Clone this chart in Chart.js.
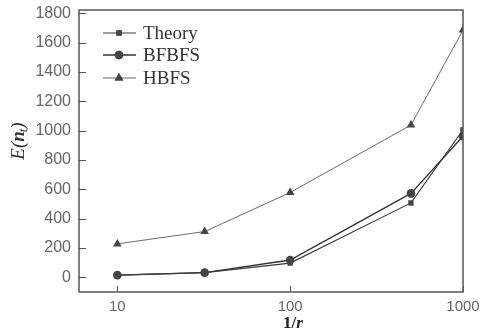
<!DOCTYPE html>
<html><head><meta charset="utf-8">
<script src="https://cdn.jsdelivr.net/npm/chart.js@4"></script>
<style>html,body{margin:0;padding:0;background:#fff}#c{display:block}</style>
</head><body>
<canvas id="c" width="480" height="330"></canvas>
<script>
const xValues = [10, 32, 100, 500, 1000];
const theory = [15, 32, 97, 507, 1005];
const bfbfs = [15, 32, 118, 572, 962];
const hbfs = [228, 312, 578, 1038, 1685];
const seriesNames = ['Theory', 'BFBFS', 'HBFS'];
const xTicks = [10, 100, 1000];
const yTicks = [0, 200, 400, 600, 800, 1000, 1200, 1400, 1600, 1800];

const pts = arr => arr.map((v, i) => ({x: xValues[i], y: v}));

const styles = [
  {color: '#3a3a3a', width: 1.1, point: 'rect', r: 3.8},
  {color: '#333333', width: 1.3, point: 'circle', r: 4.3},
  {color: '#5a5a5a', width: 0.9, point: 'triangle', r: 5}
];
const seriesData = [theory, bfbfs, hbfs];

const framePlugin = {
  id: 'frame',
  afterDraw(chart) {
    const {ctx, chartArea: a, scales} = chart;
    ctx.save();
    ctx.strokeStyle = '#555';
    ctx.lineWidth = 1.5;
    ctx.strokeRect(a.left, a.top, a.right - a.left, a.bottom - a.top);
    ctx.lineWidth = 1;
    ctx.strokeStyle = '#555';
    yTicks.forEach(v => {
      const y = Math.round(scales.y.getPixelForValue(v)) + 0.5;
      ctx.beginPath(); ctx.moveTo(a.left, y); ctx.lineTo(a.left + 7, y); ctx.stroke();
    });
    xTicks.forEach(v => {
      const x = Math.round(scales.x.getPixelForValue(v)) + 0.5;
      ctx.beginPath(); ctx.moveTo(x, a.bottom); ctx.lineTo(x, a.bottom - 6); ctx.stroke();
    });
    // legend
    const rows = [33, 55, 78];
    chart.data.datasets.forEach((ds, i) => {
      const y = rows[i];
      ctx.strokeStyle = ds.borderColor;
      ctx.lineWidth = ds.borderWidth;
      ctx.beginPath(); ctx.moveTo(103, y); ctx.lineTo(136, y); ctx.stroke();
      ctx.fillStyle = ds.pointBackgroundColor;
      ctx.beginPath();
      Chart.helpers.drawPoint(ctx, {pointStyle: ds.pointStyle, radius: ds.pointRadius, borderWidth: 0}, 119, y);
      ctx.fill();
      ctx.fillStyle = '#333';
      ctx.font = '19px "Liberation Serif", serif';
      ctx.textBaseline = 'middle';
      ctx.textAlign = 'left';
      ctx.fillText(ds.label, 143, y + 1);
    });
    // y title E(n_t)
    ctx.save();
    ctx.translate(19, 141);
    ctx.rotate(-Math.PI / 2);
    ctx.fillStyle = '#333';
    ctx.textBaseline = 'middle';
    ctx.textAlign = 'left';
    const big = 'italic 19px "Liberation Serif", serif';
    const small = 'italic 13px "Liberation Serif", serif';
    ctx.font = big;
    const wE = ctx.measureText('E(').width;
    const wn = ctx.measureText('n').width;
    ctx.font = small;
    const wt = ctx.measureText('t').width;
    ctx.font = big;
    const wp = ctx.measureText(')').width;
    let x0 = -(wE + wn + wt + wp) / 2;
    ctx.fillText('E(', x0, 0); x0 += wE;
    ctx.font = 'bold italic 19px "Liberation Serif", serif';
    ctx.fillText('n', x0, 0); x0 += wn;
    ctx.font = small;
    ctx.fillText('t', x0, 5); x0 += wt;
    ctx.font = big;
    ctx.fillText(')', x0, 0);
    ctx.restore();
    // x title 1/r
    ctx.fillStyle = '#222';
    ctx.textBaseline = 'alphabetic';
    ctx.textAlign = 'left';
    ctx.font = 'bold 17px "Liberation Serif", serif';
    const w1 = ctx.measureText('1/').width;
    ctx.font = 'bold italic 17px "Liberation Serif", serif';
    const wr = ctx.measureText('r').width;
    let xs = 293 - (w1 + wr) / 2;
    ctx.font = 'bold 17px "Liberation Serif", serif';
    ctx.fillText('1/', xs, 328);
    ctx.font = 'bold italic 17px "Liberation Serif", serif';
    ctx.fillText('r', xs + w1, 328);
    ctx.restore();
  }
};

new Chart(document.getElementById('c'), {
  type: 'line',
  data: {
    datasets: seriesNames.map((name, i) => ({
      label: name,
      data: pts(seriesData[i]),
      borderColor: styles[i].color,
      borderWidth: styles[i].width,
      pointStyle: styles[i].point,
      pointRadius: styles[i].r,
      pointBackgroundColor: '#444',
      pointBorderWidth: 0,
      tension: 0,
      fill: false
    }))
  },
  options: {
    responsive: false,
    animation: false,
    devicePixelRatio: 1,
    layout: {padding: {top: 10, right: 17, left: 0, bottom: 0}},
    plugins: {legend: {display: false}, tooltip: {enabled: false}},
    scales: {
      x: {
        type: 'logarithmic', min: 6, max: 1000,
        afterBuildTicks: s => { s.ticks = xTicks.map(v => ({value: v})); },
        afterFit: s => { s.height = 38; s.paddingLeft = 0; s.paddingRight = 0; },
        grid: {display: false, drawTicks: false},
        border: {display: false},
        ticks: {color: '#666', padding: 6, font: {family: '"Liberation Sans", Arial', size: 15},
          callback: v => String(v), autoSkip: false, maxRotation: 0}
      },
      y: {
        type: 'linear', min: -100, max: 1822,
        afterBuildTicks: s => { s.ticks = yTicks.map(v => ({value: v})); },
        afterFit: s => { s.width = 79; s.paddingTop = 0; s.paddingBottom = 0; },
        grid: {display: false, drawTicks: false},
        border: {display: false},
        ticks: {color: '#666', padding: 8, font: {family: '"Liberation Sans", Arial', size: 16},
          callback: v => String(v)}
      }
    }
  },
  plugins: [framePlugin]
});
</script>
</body></html>
